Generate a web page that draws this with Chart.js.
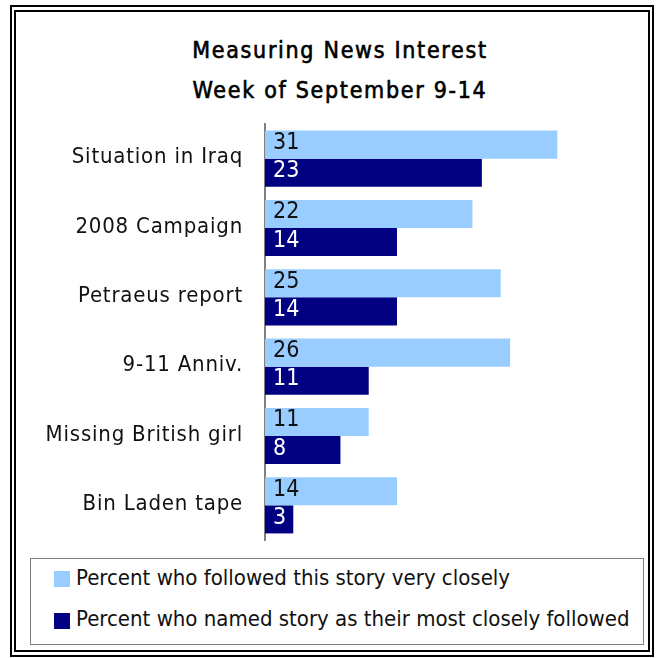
<!DOCTYPE html>
<html>
<head>
<meta charset="utf-8">
<script src="https://cdn.jsdelivr.net/npm/chart.js@4.4.0/dist/chart.umd.min.js"></script>
<style>
  body { margin: 0; background: #fff; font-family: "DejaVu Sans Condensed", "DejaVu Sans", sans-serif; }
  #frame { position: absolute; left: 10px; top: 5px; width: 640px; height: 648px; border: 2px solid #000; }
  #inner { position: absolute; left: 14px; top: 10px; width: 632px; height: 638px; border: 2px solid #000; }
  .title { position: absolute; left: 140px; width: 400px; text-align: center; font-size: 23px; line-height: 23px; letter-spacing: 1.7px; color: #000; -webkit-text-stroke: 0.6px #000; }
  #legend { position: absolute; left: 30px; top: 558px; width: 612px; height: 85px; border: 1px solid #808080; }
  .swatch { position: absolute; left: 23px; width: 16px; height: 16px; }
  .item { position: absolute; left: 45px; font-size: 22px; line-height: 22px; color: #111; white-space: nowrap; }
  #wrap { position: absolute; left: 0; top: 0; width: 658px; height: 658px; }
</style>
</head>
<body>
<div id="frame"></div>
<div id="inner"></div>
<div class="title" style="top:39px">Measuring News Interest</div>
<div class="title" style="top:79px">Week of September 9-14</div>
<div id="legend"></div>
<div id="wrap"><canvas id="chart" width="658" height="658"></canvas></div>
<script>
var stories = ["Situation in Iraq", "2008 Campaign", "Petraeus report", "9-11 Anniv.", "Missing British girl", "Bin Laden tape"];
var followedClosely = [31, 22, 25, 26, 11, 14];
var namedMost = [23, 14, 14, 11, 8, 3];
var seriesNames = ["Percent who followed this story very closely", "Percent who named story as their most closely followed"];
var seriesColors = ["#99CCFF", "#000080"];
var labelColors = ["#111111", "#ffffff"];
var fontName = '"DejaVu Sans Condensed", "DejaVu Sans", sans-serif';

// spaced out category labels, like the original
var spacing = {
    id: 'spacing',
    beforeDraw: function(chart) { chart.ctx.letterSpacing = '0.8px'; },
    afterDraw: function(chart) { chart.ctx.letterSpacing = '0px'; }
};

// values written inside the bars, near the axis
var barValues = {
    id: 'barValues',
    afterDatasetsDraw: function(chart) {
        var ctx = chart.ctx;
        ctx.save();
        ctx.letterSpacing = '0px';
        ctx.font = '23px ' + fontName;
        ctx.textAlign = 'left';
        ctx.textBaseline = 'alphabetic';
        for (var d = 0; d < chart.data.datasets.length; d++) {
            var meta = chart.getDatasetMeta(d);
            ctx.fillStyle = labelColors[d];
            for (var i = 0; i < meta.data.length; i++) {
                var bar = meta.data[i];
                ctx.fillText(chart.data.datasets[d].data[i], bar.base + 8, bar.y + 4.5);
            }
        }
        ctx.restore();
    }
};

function buildLegend() {
    var box = document.getElementById('legend');
    var boxTops = [12, 54];
    var textTops = [8, 49];
    for (var i = 0; i < seriesNames.length; i++) {
        var sw = document.createElement('div');
        sw.className = 'swatch';
        sw.style.top = boxTops[i] + 'px';
        sw.style.background = seriesColors[i];
        box.appendChild(sw);

        var div = document.createElement('div');
        div.className = 'item';
        div.style.top = textTops[i] + 'px';
        div.textContent = seriesNames[i];
        box.appendChild(div);
    }
}

buildLegend();

var ctx = document.getElementById('chart').getContext('2d');
new Chart(ctx, {
    type: 'bar',
    data: {
        labels: stories,
        datasets: [
            { label: seriesNames[0], data: followedClosely, backgroundColor: seriesColors[0] },
            { label: seriesNames[1], data: namedMost, backgroundColor: seriesColors[1] }
        ]
    },
    options: {
        indexAxis: 'y',
        responsive: false,
        animation: false,
        layout: { padding: { left: 0, right: 63, top: 124, bottom: 118 } },
        datasets: { bar: { barPercentage: 1, categoryPercentage: 0.81 } },
        plugins: { legend: { display: false }, title: { display: false }, tooltip: { enabled: false } },
        scales: {
            x: { display: false, min: 0, max: 35 },
            y: {
                grid: { display: false, drawTicks: false },
                border: { display: true, color: '#808080', width: 2 },
                ticks: { color: '#111', padding: 22, labelOffset: -1, font: { size: 22, family: fontName } },
                afterFit: function(scale) { scale.width = 265; }
            }
        }
    },
    plugins: [spacing, barValues]
});
</script>
</body>
</html>
